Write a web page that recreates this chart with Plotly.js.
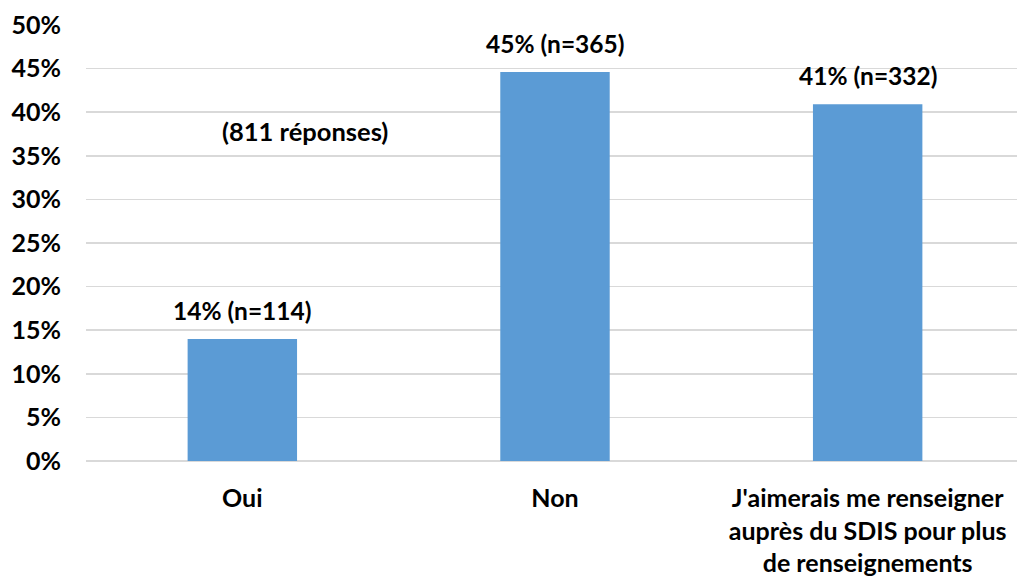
<!DOCTYPE html>
<html><head><meta charset="utf-8">
<script src="https://cdn.plot.ly/plotly-3.0.1.min.js"></script>
<style>html,body{margin:0;padding:0;overflow:hidden;background:#fff}</style>
</head><body><div id="chart"></div>
<script>
const categories = ["Oui", "Non", "J'aimerais me renseigner<br>auprès du SDIS pour plus<br>de renseignements"];
const values = [14.0, 44.6, 40.9];
const counts = [114, 365, 332];
const percents = [14, 45, 41];
const totalLabel = "(811 réponses)";
const yTickVals = [0,5,10,15,20,25,30,35,40,45,50];
const yTickText = ["0%","5%","10%","15%","20%","25%","30%","35%","40%","45%","50%"];

const fontFam = "Lato, 'Open Sans', sans-serif";
const labels = percents.map((p, i) => p + "% (n=" + counts[i] + ")");

const annotations = categories.map((c, i) => ({
  x: c, y: values[i], xref: 'x', yref: 'y', text: labels[i],
  showarrow: false, xanchor: 'center', yanchor: 'bottom', yshift: 12,
  font: {family: fontFam, size: 24.5, color: '#000', weight: 'bold'}
}));
annotations.push({
  x: 0.233, y: 37.8, xref: 'paper', yref: 'y', text: totalLabel, showarrow: false,
  xanchor: 'center', yanchor: 'middle',
  font: {family: fontFam, size: 25.5, color: '#000', weight: 'bold'}
});

Plotly.newPlot('chart', [{
  type: 'bar', x: categories, y: values,
  marker: {color: '#5B9BD5'}, width: 0.35, hoverinfo: 'none'
}], {
  width: 1024, height: 580,
  margin: {l: 86, r: 0, t: 25, b: 118.5},
  paper_bgcolor: '#fff', plot_bgcolor: '#fff',
  showlegend: false,
  font: {family: fontFam, size: 22, color: '#000', weight: 'bold'},
  xaxis: {
    showgrid: false, zeroline: false, showline: false, ticks: '',
    ticklabelstandoff: 20,
    tickfont: {family: fontFam, size: 25, color: '#000', weight: 'bold'}
  },
  yaxis: {
    range: [0, 50], tickvals: yTickVals, ticktext: yTickText,
    showgrid: true, gridcolor: '#d9d9d9', gridwidth: 1.5,
    zeroline: true, zerolinecolor: '#d9d9d9', zerolinewidth: 1.5,
    showline: false, ticks: '', ticklabelstandoff: 24,
    tickfont: {family: fontFam, size: 25, color: '#000', weight: 'bold'}
  },
  annotations: annotations
}, {displayModeBar: false, staticPlot: true});
</script></body></html>
